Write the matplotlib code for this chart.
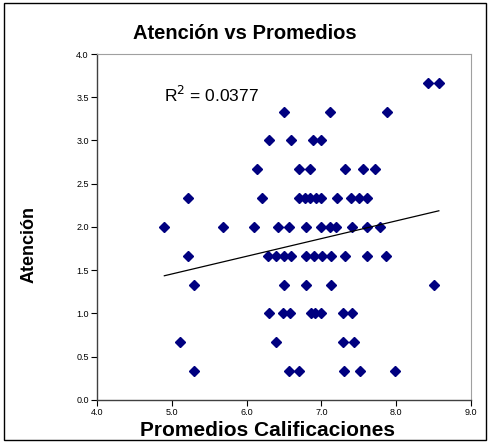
import numpy as np
import matplotlib.pyplot as plt
from matplotlib.patches import Rectangle

plt.rcParams['font.family'] = ['Liberation Sans', 'DejaVu Sans']

# Promedios (x) agrupados por nivel de atención (y)
atencion_niveles = [3.67, 3.33, 3.0, 2.67, 2.33, 2.0, 1.67, 1.33, 1.0, 0.67, 0.33]
promedios_por_nivel = [
    [8.42, 8.57],
    [6.50, 7.11, 7.88],
    [6.30, 6.60, 6.89, 7.00],
    [6.14, 6.70, 6.85, 7.31, 7.55, 7.71],
    [5.21, 6.20, 6.70, 6.78, 6.85, 6.93, 7.00, 7.21, 7.40, 7.50, 7.61],
    [4.90, 5.69, 6.10, 6.42, 6.57, 6.80, 6.99, 7.11, 7.20, 7.41, 7.61, 7.79],
    [5.21, 6.29, 6.39, 6.50, 6.60, 6.79, 6.90, 7.01, 7.13, 7.31, 7.61, 7.86],
    [5.29, 6.50, 6.80, 7.13, 8.50],
    [6.30, 6.49, 6.58, 6.86, 6.91, 7.00, 7.29, 7.41],
    [5.11, 6.39, 7.29, 7.44],
    [5.29, 6.57, 6.70, 7.30, 7.51, 7.99],
]
r2_texto = "0.0377"

x = np.concatenate([np.array(p) for p in promedios_por_nivel])
y = np.concatenate([[a] * len(p) for a, p in zip(atencion_niveles, promedios_por_nivel)])

fig = plt.figure(figsize=(4.89, 4.43), dpi=100)
ax = fig.add_axes([0.1984, 0.0971, 0.7648, 0.781])

ax.plot(x, y, linestyle='none', marker='D', markersize=5.6,
        color='#000080', markeredgecolor='#000080')

# Linea de tendencia (regresion lineal)
m, b = np.polyfit(x, y, 1)
xl = np.array([x.min(), x.max()])
ax.plot(xl, m * xl + b, color='black', linewidth=0.9)

ax.text(4.9, 3.53, "R$^2$ = " + r2_texto, fontsize=12.5, va='center', ha='left')

ax.set_xlim(4.0, 9.0)
ax.set_ylim(0.0, 4.0)
ax.set_xticks(np.arange(4.0, 9.01, 1.0))
ax.set_yticks(np.arange(0.0, 4.01, 0.5))
ax.set_xticklabels([f"{v:.1f}" for v in np.arange(4.0, 9.01, 1.0)])
ax.set_yticklabels([f"{v:.1f}" for v in np.arange(0.0, 4.01, 0.5)])
ax.tick_params(labelsize=6.5, length=4, width=0.8, direction='out', pad=2)

for lado in ['top', 'right']:
    ax.spines[lado].set_color('#a0a0a0')
for lado in ['left', 'bottom']:
    ax.spines[lado].set_color('#404040')
    ax.spines[lado].set_linewidth(1.0)

ax.set_xlabel("Promedios Calificaciones", fontsize=15, fontweight='bold')
ax.xaxis.set_label_coords(0.456, -0.062, transform=ax.transAxes)
ax.xaxis.label.set_va('top')
ax.set_ylabel("Atención", fontsize=13, fontweight='bold')
ax.yaxis.set_label_coords(-0.16, 0.448, transform=ax.transAxes)
fig.text(0.5, 0.925, "Atención vs Promedios", fontsize=14.5, fontweight='bold',
         ha='center', va='center')

# Marco exterior
fig.patches.append(Rectangle((0.008, 0.006), 0.985, 0.988, transform=fig.transFigure,
                             fill=False, edgecolor='black', linewidth=1.0))

fig.savefig("out.png", dpi=100)
